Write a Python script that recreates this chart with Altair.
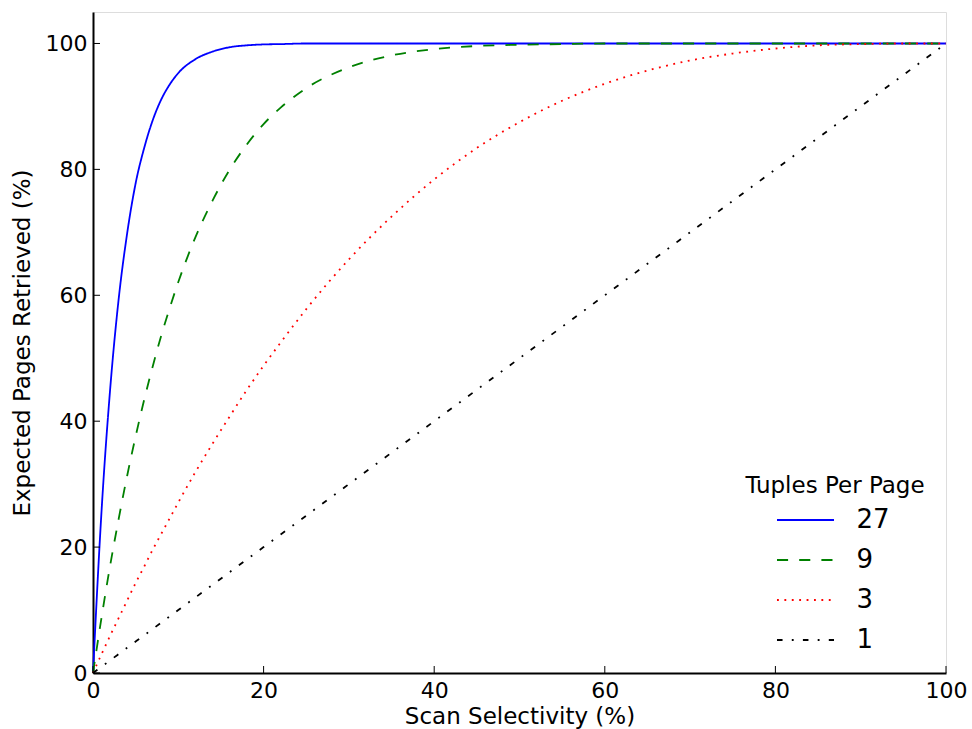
import altair as alt
import pandas as pd

# ---- data ----
selectivity = [0, 1, 2, 3, 4, 5, 6, 7, 8, 9, 10, 12, 14, 16, 18, 20, 22,
               25, 30, 35, 40, 45, 50, 55, 60, 65, 70, 75, 80, 85, 90, 95, 100]
pages_27 = [0, 25.7, 44.9, 59.3, 69.8, 77.8, 83.4, 87.8, 91.1, 93.5, 95.3,
            97.5, 98.7, 99.4, 99.7, 99.85, 99.9,
            100, 100, 100, 100, 100, 100, 100, 100, 100, 100, 100, 100, 100, 100, 100, 100]
pages_9 = [0, 8.8, 17.0, 24.4, 31.3, 37.6, 43.4, 48.7, 53.6, 58.0, 62.1,
           69.2, 75.0, 79.9, 83.9, 87.2, 89.8,
           92.9, 96.2, 98.1, 99.1, 99.6, 99.8, 99.9, 100, 100, 100, 100, 100, 100, 100, 100, 100]
pages_3 = [0, 3.0, 5.9, 8.7, 11.5, 14.3, 16.9, 19.6, 22.1, 24.6, 27.1,
           31.9, 36.4, 40.7, 44.9, 48.8, 52.5,
           57.8, 65.7, 72.5, 78.4, 83.4, 87.5, 90.9, 93.6, 95.7, 97.3, 98.4, 99.2, 99.7, 99.9, 100, 100]
pages_1 = [0, 1, 2, 3, 4, 5, 6, 7, 8, 9, 10, 12, 14, 16, 18, 20, 22,
           25, 30, 35, 40, 45, 50, 55, 60, 65, 70, 75, 80, 85, 90, 95, 100]

series = ["27", "9", "3", "1"]
series_values = [pages_27, pages_9, pages_3, pages_1]
colors = ["#0000ff", "#008000", "#ff0000", "#000000"]
dashes = [[1, 0], [11.1, 11.1], [1.85, 5.55], [5.55, 9.25, 1.85, 9.25]]

x_ticks = [0, 20, 40, 60, 80, 100]
y_ticks = [0, 20, 40, 60, 80, 100]

rows = []
for name, vals in zip(series, series_values):
    for s, v in zip(selectivity, vals):
        rows.append({"sel": s, "pages": v, "tpp": name})
df = pd.DataFrame(rows)

W, H = 853, 661
FONT = "DejaVu Sans"

x_scale = alt.Scale(domain=[0, 100], nice=False, zero=False)
y_scale = alt.Scale(domain=[0, 105], nice=False)

x_axis = alt.Axis(title="Scan Selectivity (%)", values=x_ticks, ticks=False,
                  grid=False, domainColor="black", domainWidth=2,
                  labelFontSize=22, labelFont=FONT, labelColor="black",
                  labelPadding=7, labelFlush=False, labelOverlap=False,
                  titleFontSize=23, titleFont=FONT, titleColor="black",
                  titleFontWeight="normal", titlePadding=4)
y_axis = alt.Axis(title="Expected Pages Retrieved (%)", values=y_ticks, ticks=False,
                  grid=False, domainColor="black", domainWidth=2,
                  labelFontSize=22, labelFont=FONT, labelColor="black",
                  labelPadding=6, labelFlush=False, labelOverlap=False,
                  titleFontSize=23, titleFont=FONT, titleColor="black",
                  titleFontWeight="normal", titlePadding=11)

legend = alt.Legend(
    title="Tuples Per Page", orient="none", legendX=652, legendY=463,
    symbolType="M-2.5,0H2.5", symbolSize=520, symbolStrokeWidth=1.8,
    symbolOffset=12.5, labelOffset=38, labelFontSize=26, labelFont=FONT,
    labelColor="black", titleFontSize=23, titleFont=FONT, titleColor="black",
    titleFontWeight="normal", titlePadding=9, rowPadding=14,
    titleAnchor="middle", titleAlign="center",
)

lines = alt.Chart(df).mark_line(strokeWidth=1.8, interpolate="monotone").encode(
    x=alt.X("sel:Q", scale=x_scale, axis=x_axis),
    y=alt.Y("pages:Q", scale=y_scale, axis=y_axis),
    color=alt.Color("tpp:N", sort=series,
                    scale=alt.Scale(domain=series, range=colors), legend=legend),
    strokeDash=alt.StrokeDash("tpp:N", sort=series,
                              scale=alt.Scale(domain=series, range=dashes), legend=legend),
    detail="tpp:N",
)

xt = alt.Chart(pd.DataFrame({"sel": x_ticks})).mark_rule(color="black", strokeWidth=1).encode(
    x=alt.X("sel:Q", scale=x_scale, axis=x_axis),
    y=alt.value(H), y2=alt.value(H - 7),
)
yt = alt.Chart(pd.DataFrame({"pages": y_ticks})).mark_rule(color="black", strokeWidth=1).encode(
    y=alt.Y("pages:Q", scale=y_scale, axis=y_axis),
    x=alt.value(0), x2=alt.value(7),
)

chart = alt.layer(lines, xt, yt).properties(
    width=W, height=H,
    autosize=alt.AutoSizeParams(type="none"),
    padding={"left": 93, "top": 12, "right": 26, "bottom": 56},
).configure_view(strokeWidth=0, stroke="transparent").configure(background="white")

chart.save("out.html", embed_options={"renderer": "svg", "actions": False})
